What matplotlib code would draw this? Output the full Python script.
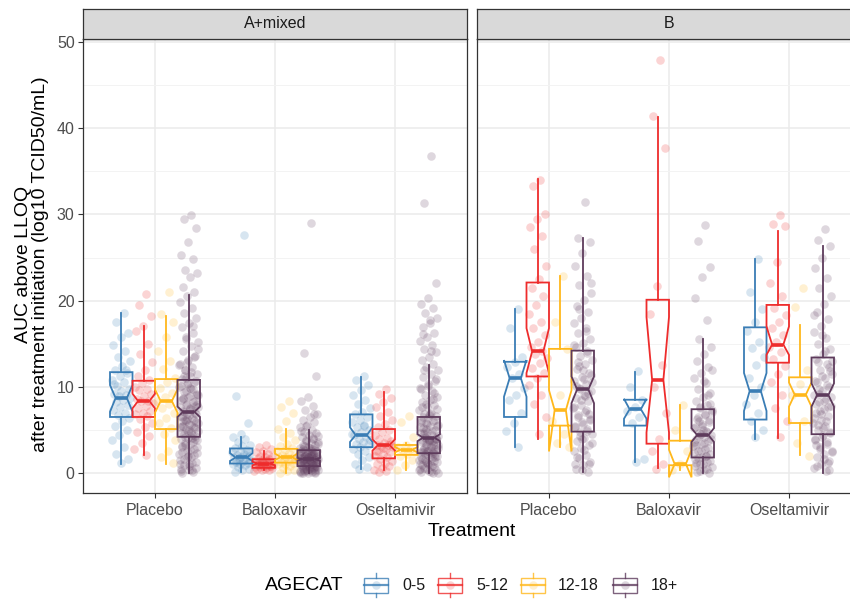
import matplotlib
matplotlib.use("Agg")
import matplotlib.pyplot as plt
from matplotlib.patches import Rectangle
from matplotlib.lines import Line2D

plt.rcParams['font.family'] = ['Liberation Sans', 'DejaVu Sans']

# ---------------- data ----------------
facets = ['A+mixed', 'B']
treatments = ['Placebo', 'Baloxavir', 'Oseltamivir']
agecats = ['0-5', '5-12', '12-18', '18+']
colors = ['#3A7DB5', '#EE2C2C', '#FFB81C', '#5E3B5C']
yticks = [0, 10, 20, 30, 40, 50]

# box statistics: rows = treatments, columns = age categories
A_q1   = [[6.5, 6.5, 5.1, 4.2], [1.1, 0.6, 1.2, 0.8], [3.0, 1.7, 2.1, 2.3]]
A_med  = [[8.7, 8.35, 8.35, 7.1], [1.8, 1.1, 1.85, 1.6], [4.4, 3.25, 2.7, 4.1]]
A_q3   = [[11.7, 10.7, 10.9, 10.8], [2.85, 1.6, 2.8, 2.65], [6.8, 5.1, 3.25, 6.5]]
A_lo   = [[1.1, 2.1, 1.1, 0.0], [0.15, 0.3, 0.0, 0.0], [0.5, 0.35, 0.35, 0.0]]
A_hi   = [[18.6, 17.0, 18.2, 20.6], [4.2, 2.6, 5.1, 5.0], [11.1, 9.4, 3.5, 12.5]]
A_cilo = [[7.1, 7.5, 7.0, 6.5], [1.4, 0.9, 1.5, 1.45], [3.6, 2.6, 2.4, 3.7]]
A_cihi = [[10.2, 9.2, 9.7, 7.7], [2.3, 1.3, 2.25, 1.75], [5.3, 3.9, 3.0, 4.5]]

B_q1   = [[6.5, 11.2, 5.5, 4.8], [5.5, 3.4, 0.9, 1.8], [6.2, 12.8, 5.8, 4.5]]
B_med  = [[11.0, 14.1, 7.3, 9.7], [7.4, 10.8, 1.05, 4.4], [9.5, 14.9, 9.1, 9.05]]
B_q3   = [[12.9, 22.1, 14.4, 14.2], [8.5, 20.1, 3.75, 7.4], [16.9, 19.5, 11.1, 13.4]]
B_lo   = [[3.05, 3.9, 3.05, 0.15], [1.3, 0.55, 0.3, 0.0], [4.0, 4.1, 2.1, 0.0]]
B_hi   = [[19.0, 34.1, 22.8, 27.3], [11.75, 41.3, 7.9, 15.5], [24.8, 28.1, 17.2, 26.3]]
B_cilo = [[8.85, 11.6, 2.5, 8.1], [6.3, 4.7, -0.5, 3.6], [7.2, 13.7, 7.7, 7.7]]
B_cihi = [[13.1, 16.8, 9.6, 11.2], [8.6, 18.1, 2.7, 5.2], [11.6, 17.0, 10.5, 10.4]]

# individual observations (jittered points)
pts_A_placebo = [
    [18.6, 17.5, 16.2, 15.8, 14.9, 14.1, 13.5, 13.0, 12.4, 12.0, 11.6, 11.2, 10.8, 10.5, 10.1, 9.8, 9.5, 9.2, 9.0, 8.9,
     8.7, 8.5, 8.2, 7.9, 7.6, 7.3, 7.0, 6.7, 6.4, 6.0, 5.5, 5.0, 4.4, 3.8, 3.0, 2.2, 1.6, 1.2, 10.3, 11.9],
    [20.8, 19.5, 18.2, 17.1, 16.5, 15.0, 13.8, 12.9, 12.0, 11.2, 10.8, 10.4, 10.0, 9.8, 9.6, 9.2, 8.9, 8.6, 8.4, 8.3,
     8.1, 7.8, 7.5, 7.2, 7.0, 6.9, 6.6, 6.3, 5.8, 5.3, 4.8, 4.3, 3.5, 2.8, 2.1],
    [21.0, 18.5, 17.5, 15.8, 14.2, 13.0, 12.1, 11.0, 10.5, 9.9, 9.3, 8.8, 8.4, 8.0, 7.5, 7.0, 6.4, 5.8, 5.2, 4.5,
     3.8, 2.6, 1.8, 1.2],
    [29.9, 29.5, 28.4, 26.8, 25.3, 24.8, 23.6, 23.2, 22.7, 21.6, 21.0, 20.5, 19.8, 19.2, 18.6, 18.0, 17.4, 16.9, 16.3,
     15.8, 15.2, 14.7, 14.1, 13.6, 13.1, 12.7, 12.3, 11.9, 11.5, 11.2, 10.9, 10.6, 10.3, 10.0, 9.7, 9.4, 9.1, 8.8, 8.5,
     8.2, 7.9, 7.6, 7.4, 7.2, 7.0, 6.8, 6.6, 6.4, 6.1, 5.9, 5.7, 5.5, 5.3, 5.1, 4.9, 4.7, 4.5, 4.3, 4.1, 3.9, 3.6, 3.3,
     3.0, 2.7, 2.4, 2.1, 1.8, 1.5, 1.2, 0.9, 0.6, 0.4, 0.2, 0.1, 11.0, 9.0, 7.5, 6.0, 4.0, 2.0, 1.0, 0.3, 12.0, 8.0,
     5.0, 3.0, 13.4, 12.9, 12.5, 11.7, 11.3, 10.7, 10.4, 10.1, 9.8, 9.5, 9.2, 8.9, 8.6, 8.3, 8.0, 7.7, 7.3, 7.1, 6.9,
     6.7, 6.5, 6.2, 6.0, 5.8, 5.6, 5.4, 5.2, 4.8, 4.6, 4.4, 4.2, 3.8, 3.4, 3.1, 2.8, 2.5, 2.2, 1.9, 1.6, 1.3, 0.8, 0.5,
     17.0, 15.5, 14.4, 9.9, 8.7, 7.8, 6.3, 5.3, 4.1, 3.5, 2.3, 1.1, 0.0],
]
pts_A_baloxavir = [
    [27.6, 8.9, 5.8, 4.5, 4.2, 3.9, 3.6, 3.3, 3.1, 2.9, 2.7, 2.5, 2.4, 2.2, 2.1, 2.0, 1.9, 1.8, 1.7, 1.6, 1.5, 1.4,
     1.3, 1.2, 1.1, 1.0, 0.9, 0.7, 0.5, 0.3, 0.15, 2.3, 1.75],
    [3.3, 3.0, 2.8, 2.6, 2.4, 2.2, 2.0, 1.9, 1.8, 1.7, 1.6, 1.5, 1.45, 1.4, 1.3, 1.25, 1.2, 1.15, 1.1, 1.05, 1.0, 0.95,
     0.9, 0.85, 0.8, 0.75, 0.7, 0.65, 0.6, 0.5, 0.45, 0.4, 0.3, 0.2, 1.35, 1.0, 0.8, 1.2],
    [8.4, 7.7, 7.0, 6.0, 5.1, 4.6, 4.2, 3.8, 3.4, 3.1, 2.9, 2.7, 2.5, 2.3, 2.1, 2.0, 1.9, 1.8, 1.7, 1.6, 1.5, 1.4, 1.3,
     1.2, 1.1, 1.0, 0.8, 0.6, 0.4, 0.2, 0.0],
    [29.0, 13.9, 11.3, 8.85, 8.3, 7.8, 7.3, 6.9, 6.5, 6.2, 5.9, 5.6, 5.3, 5.0, 4.8, 4.6, 4.4, 4.2, 4.0, 3.8, 3.6, 3.5,
     3.3, 3.2, 3.0, 2.9, 2.8, 2.7, 2.6, 2.5, 2.4, 2.3, 2.2, 2.1, 2.0, 1.9, 1.85, 1.8, 1.75, 1.7, 1.65, 1.6, 1.5, 1.4,
     1.3, 1.2, 1.1, 1.0, 0.9, 0.8, 0.75, 0.7, 0.6, 0.5, 0.4, 0.3, 0.2, 0.1, 0.05, 0.0, 2.15, 1.95, 1.55, 1.25, 0.95,
     0.65, 0.35, 0.15, 2.55, 3.1, 1.05, 0.45, 4.9, 4.1, 3.7, 3.4, 2.95, 2.75, 2.65, 2.45, 2.35, 2.25, 2.05, 1.98, 1.88,
     1.78, 1.68, 1.58, 1.48, 1.38, 1.28, 1.18, 1.08, 0.98, 0.88, 0.78, 0.68, 0.58, 0.48, 0.38, 0.28, 0.18, 0.08, 1.62,
     1.72, 1.52, 1.42, 6.8, 5.4, 4.3, 2.1, 0.0, 0.02, 1.9, 2.6, 1.0],
]
pts_A_oseltamivir = [
    [11.3, 10.8, 10.2, 9.6, 9.1, 8.5, 8.0, 7.5, 7.1, 6.8, 6.5, 6.2, 5.9, 5.6, 5.3, 5.0, 4.7, 4.4, 4.2, 4.0, 3.8, 3.6,
     3.4, 3.2, 3.0, 2.8, 2.5, 2.2, 1.9, 1.5, 1.1, 0.7, 0.5, 4.5, 5.5],
    [9.7, 9.2, 8.7, 8.2, 7.6, 7.1, 6.6, 6.1, 5.7, 5.3, 5.0, 4.7, 4.4, 4.1, 3.9, 3.7, 3.5, 3.3, 3.2, 3.1, 3.0, 2.8, 2.6,
     2.4, 2.2, 2.0, 1.8, 1.6, 1.4, 1.2, 1.0, 0.8, 0.6, 0.4, 0.2, 0.1, 3.4, 2.9, 2.5],
    [6.6, 5.95, 4.2, 3.3, 3.0, 2.8, 2.6, 2.4, 2.2, 2.0, 1.5, 0.9, 0.35],
    [36.8, 31.3, 22.1, 20.3, 19.6, 19.1, 18.6, 18.0, 17.4, 16.9, 16.3, 15.8, 15.3, 14.9, 14.4, 14.0, 13.5, 13.1, 12.7,
     12.3, 11.9, 11.5, 11.1, 10.7, 10.3, 9.9, 9.5, 9.1, 8.8, 8.5, 8.2, 7.9, 7.6, 7.3, 7.0, 6.8, 6.6, 6.4, 6.2, 6.0,
     5.8, 5.6, 5.4, 5.2, 5.0, 4.8, 4.6, 4.4, 4.2, 4.0, 3.9, 3.8, 3.6, 3.4, 3.2, 3.0, 2.9, 2.8, 2.6, 2.4, 2.3, 2.2, 2.0,
     1.8, 1.6, 1.4, 1.2, 1.0, 0.8, 0.6, 0.4, 0.2, 0.1, 0.0, 5.1, 4.3, 3.5, 2.7, 1.9, 1.1, 0.5, 3.7, 4.1, 5.5, 6.7,
     7.7, 9.3, 2.5, 1.5, 14.2, 12.0, 10.9, 10.1, 9.7, 8.6, 8.0, 7.4, 6.9, 6.5, 6.1, 5.7, 5.3, 4.9, 4.5, 4.1, 3.85,
     3.55, 3.3, 3.1, 2.85, 2.65, 2.45, 2.25, 2.1, 1.9, 1.7, 1.5, 1.3, 1.1, 0.9, 0.7, 0.5, 0.3, 0.15, 4.7, 3.95, 3.75,
     5.9, 2.55, 1.25, 0.0, 17.7, 16.1],
]
pts_B_placebo = [
    [19.0, 16.8, 13.5, 12.9, 12.3, 11.5, 11.0, 9.9, 9.0, 8.5, 7.0, 5.8, 4.9, 3.0],
    [34.0, 33.3, 30.0, 29.5, 28.5, 27.5, 26.0, 24.0, 22.5, 21.5, 20.5, 19.5, 18.5, 17.5, 16.8, 16.0, 15.2, 14.6, 14.2,
     13.8, 13.3, 12.8, 12.2, 11.6, 11.0, 10.2, 9.0, 8.0, 6.5, 4.5],
    [22.8, 17.5, 14.4, 9.0, 6.0, 4.5, 3.5, 3.0],
    [31.4, 27.3, 26.8, 25.5, 24.0, 22.8, 21.8, 20.9, 20.1, 19.4, 18.7, 18.0, 17.4, 16.8, 16.2, 15.6, 15.1, 14.6, 14.1,
     13.6, 13.1, 12.6, 12.1, 11.6, 11.1, 10.7, 10.3, 9.9, 9.5, 9.1, 8.7, 8.3, 7.9, 7.5, 7.1, 6.7, 6.3, 5.9, 5.5, 5.1,
     4.8, 4.5, 4.1, 3.7, 3.3, 2.9, 2.5, 2.1, 1.7, 1.3, 0.9, 0.5, 0.15, 9.7, 10.5, 8.9, 12.9, 6.9, 3.9, 1.0, 13.9,
     12.4, 11.4, 10.9, 10.1, 9.3, 8.5, 7.7, 7.3, 6.5, 6.1, 5.7, 5.3, 4.9, 4.3, 3.5, 2.7, 1.9, 1.1, 0.4, 14.8, 16.5,
     19.0, 22.0, 11.9],
]
pts_B_baloxavir = [
    [11.8, 10.0, 8.5, 7.6, 7.2, 6.5, 5.8, 1.6, 1.3],
    [47.9, 41.4, 37.7, 21.7, 18.5, 12.5, 10.0, 7.0, 4.0, 2.5, 1.0, 0.5],
    [7.9, 5.0, 2.5, 1.0, 0.3],
    [28.8, 26.9, 23.9, 22.7, 20.3, 17.8, 15.5, 14.6, 13.8, 13.0, 12.3, 11.6, 11.0, 10.4, 9.8, 9.3, 8.8, 8.3, 7.9, 7.5,
     7.1, 6.7, 6.3, 5.9, 5.5, 5.2, 4.9, 4.6, 4.4, 4.2, 4.0, 3.7, 3.4, 3.1, 2.8, 2.5, 2.2, 1.9, 1.6, 1.3, 1.0, 0.7, 0.4,
     0.1, 0.0, 4.5, 3.6, 2.0, 6.0, 8.0, 5.0, 1.2, 9.0, 7.7, 7.3, 6.9, 6.5, 6.1, 5.7, 5.3, 4.8, 4.3, 3.9, 3.5, 3.2, 2.9,
     2.6, 2.3, 2.0, 1.7, 1.4, 1.1, 0.8, 0.5, 0.2, 12.0, 10.7],
]
pts_B_oseltamivir = [
    [24.8, 21.0, 19.0, 17.5, 16.5, 15.2, 14.5, 13.5, 12.5, 11.0, 10.0, 9.0, 8.0, 7.0, 6.0, 5.0, 4.2],
    [29.9, 28.9, 28.7, 24.5, 22.0, 20.5, 19.2, 18.3, 17.5, 16.8, 16.0, 15.2, 14.6, 14.0, 13.2, 12.4, 11.5, 10.5, 9.0,
     7.5, 6.0, 4.2],
    [21.5, 19.3, 12.0, 10.3, 9.0, 6.0, 3.5, 2.0],
    [28.3, 27.0, 26.3, 25.0, 23.8, 22.6, 21.5, 20.5, 19.6, 18.7, 17.9, 17.1, 16.4, 15.7, 15.0, 14.4, 13.8, 13.2, 12.6,
     12.0, 11.5, 11.0, 10.5, 10.0, 9.5, 9.0, 8.6, 8.2, 7.8, 7.4, 7.0, 6.6, 6.2, 5.8, 5.4, 5.0, 4.6, 4.2, 3.8, 3.4, 3.0,
     2.6, 2.2, 1.8, 1.4, 1.0, 0.6, 0.2, 9.2, 11.8, 5.2, 3.2, 1.2, 7.2, 13.0, 14.1, 12.9, 12.3, 11.2, 10.7, 10.2, 9.7,
     8.8, 8.4, 8.0, 7.6, 6.8, 6.4, 6.0, 5.6, 4.8, 4.4, 4.0, 3.6, 2.8, 2.4, 1.6, 0.8, 0.4, 16.0, 18.3],
]

stats_by_facet = {
    'A+mixed': (A_q1, A_med, A_q3, A_lo, A_hi, A_cilo, A_cihi),
    'B': (B_q1, B_med, B_q3, B_lo, B_hi, B_cilo, B_cihi),
}
pts_by_facet = {
    'A+mixed': [pts_A_placebo, pts_A_baloxavir, pts_A_oseltamivir],
    'B': [pts_B_placebo, pts_B_baloxavir, pts_B_oseltamivir],
}

# ---------------- layout ----------------
W, H = 850, 599
fig = plt.figure(figsize=(W / 100, H / 100), dpi=100)
fig.patch.set_facecolor('white')

def fx(px):
    return px / W

def fy(py):
    return 1 - py / H

panel_top, panel_bot = 39, 493
strip_top = 9
panel_lefts = [83, 477]
panel_w = 384

dark = '#333333'
grid_c = '#EBEBEB'
tick_c = '#4D4D4D'
dodge = 0.75 / 4
offs = [(-1.5 + k) * dodge for k in range(4)]
jit = 0.08
pt_alpha = 0.2

for fi, facet in enumerate(facets):
    left = panel_lefts[fi]
    ax = fig.add_axes([fx(left), fy(panel_bot), panel_w / W, (panel_bot - panel_top) / H])
    ax.set_xlim(0.4, 3.6)
    ax.set_ylim(-2.32, 50.35)
    ax.set_yticks(yticks)
    ax.set_yticks([5, 15, 25, 35, 45], minor=True)
    ax.set_xticks([1, 2, 3])
    ax.set_xticklabels(treatments)
    ax.grid(True, which='major', color=grid_c, lw=1.1, zorder=0)
    ax.grid(True, which='minor', axis='y', color='#F3F3F3', lw=0.7, zorder=0)
    ax.set_axisbelow(True)
    for sp in ax.spines.values():
        sp.set_color(dark)
        sp.set_linewidth(0.9)
    ax.tick_params(axis='both', which='major', length=3.5, width=0.8, color=dark,
                   labelcolor=tick_c, labelsize=11.5, pad=2.5)
    ax.tick_params(axis='x', pad=4)
    ax.tick_params(which='minor', length=0)
    if fi == 1:
        ax.tick_params(axis='y', labelleft=False, length=0)

    q1, med, q3, lo, hi, cilo, cihi = stats_by_facet[facet]
    pts = pts_by_facet[facet]
    for ti in range(3):
        for ai in range(4):
            pos = ti + 1 + offs[ai]
            vals = pts[ti][ai]
            xs = [pos + (((k + 1) * 0.6180339887) % 1.0 - 0.5) * 2 * jit for k in range(len(vals))]
            ax.scatter(xs, vals, s=38, color=colors[ai], alpha=pt_alpha, linewidths=0, zorder=2)
            st = dict(med=med[ti][ai], q1=q1[ti][ai], q3=q3[ti][ai],
                      whislo=lo[ti][ai], whishi=hi[ti][ai],
                      cilo=cilo[ti][ai], cihi=cihi[ti][ai], fliers=[])
            c = colors[ai]
            ax.bxp([st], positions=[pos], widths=dodge, shownotches=True, showcaps=False,
                   showfliers=False, patch_artist=True, manage_ticks=False,
                   boxprops=dict(facecolor='none', edgecolor=c, linewidth=1.3),
                   whiskerprops=dict(color=c, linewidth=1.3),
                   medianprops=dict(color=c, linewidth=2.6, solid_capstyle='butt'),
                   zorder=3)

    # strip
    sax = fig.add_axes([fx(left), fy(panel_top), panel_w / W, (panel_top - strip_top) / H])
    sax.set_facecolor('#D9D9D9')
    sax.set_xticks([])
    sax.set_yticks([])
    for sp in sax.spines.values():
        sp.set_color(dark)
        sp.set_linewidth(0.9)
    sax.text(0.5, 0.5, facet, transform=sax.transAxes, ha='center', va='center',
             fontsize=11.5, color='#1A1A1A')

# axis titles
fig.text(fx(472), fy(532), 'Treatment', ha='center', va='center', fontsize=14, color='black')
fig.text(fx(32), fy(264), 'AUC above LLOQ\nafter treatment initiation (log10 TCID50/mL)',
         ha='center', va='center', rotation=90, fontsize=14, color='black', linespacing=1.05)

# ---------------- legend ----------------
lax = fig.add_axes([0, 0, 1, 1], facecolor='none')
lax.set_xlim(0, W)
lax.set_ylim(H, 0)
lax.axis('off')
lax.text(265, 585, 'AGECAT', ha='left', va='center', fontsize=14, color='black')
key_x = [364, 438, 521, 613]
lab_x = [402, 476, 558, 651]
for ai in range(4):
    c = colors[ai]
    x0 = key_x[ai]
    xc = x0 + 12
    lax.add_line(Line2D([xc, xc], [573, 577.5], color=c, lw=1.0, alpha=0.8))
    lax.add_line(Line2D([xc, xc], [592.5, 597], color=c, lw=1.0, alpha=0.8))
    lax.add_patch(Rectangle((x0, 577.5), 24, 15, facecolor='none', edgecolor=c, lw=1.0, alpha=0.8))
    lax.add_line(Line2D([x0, x0 + 24], [585, 585], color=c, lw=1.6, alpha=0.8))
    lax.scatter([xc], [585], s=38, color=c, alpha=pt_alpha, linewidths=0)
    lax.text(lab_x[ai], 585, agecats[ai], ha='left', va='center', fontsize=11.5, color='#1A1A1A')

fig.savefig('out.png', dpi=100, facecolor='white')
